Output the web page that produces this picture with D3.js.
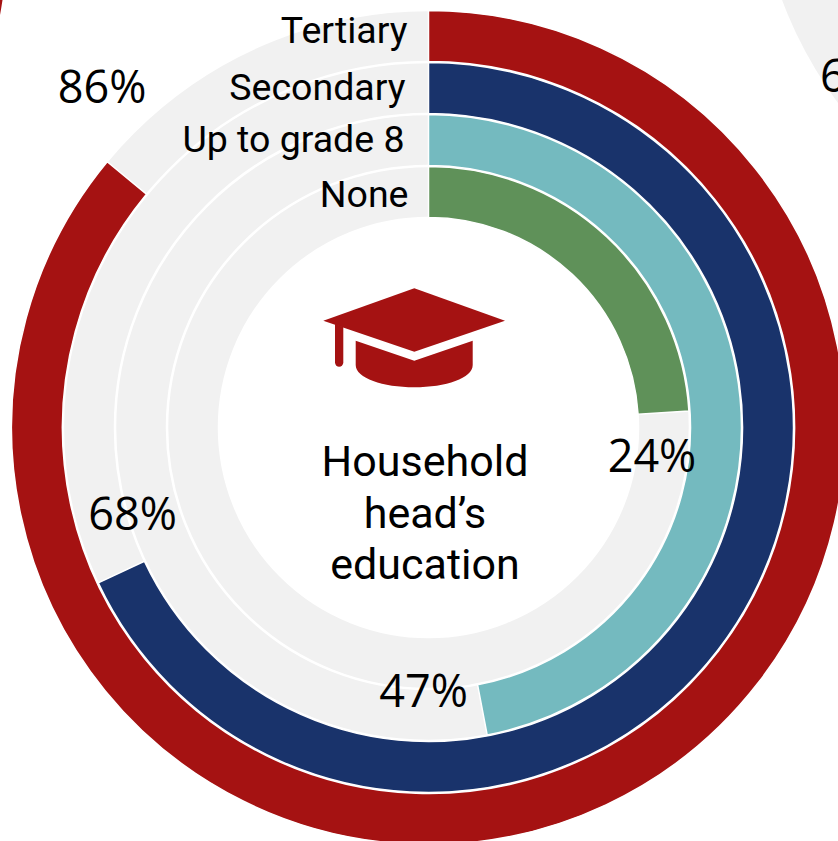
<!DOCTYPE html>
<html>
<head>
<meta charset="utf-8">
<script src="https://d3js.org/d3.v7.min.js"></script>
<style>
html,body{margin:0;padding:0;background:#fff;overflow:hidden}
svg{display:block}
text{fill:#000}
</style>
</head>
<body>
<svg id="chart" width="838" height="841"></svg>
<script>
var categories = ["Tertiary", "Secondary", "Up to grade 8", "None"];
var shares = [86, 68, 47, 24];
var colors = ["#a51212", "#19336b", "#74babf", "#5f9159"];
var titleLines = ["Household", "head\u2019s", "education"];

// bits of the neighbouring panels that are cut off by the crop
var neighbourRightLabel = "6";

var W = 838, H = 841;
var CX = 428.5, CY = 427.5;
var TRACK = "#f1f1f1";

var svg = d3.select("#chart");

var angle = d3.scaleLinear().domain([0, 100]).range([0, 2 * Math.PI]);
var ring = d3.scaleBand().domain(categories).range([417, 210]).paddingInner(0.02);

var arc = d3.arc();

// neighbour panels
svg.append("path")
    .attr("transform", "translate(1172,-145)")
    .attr("fill", TRACK)
    .attr("d", arc({innerRadius: 300, outerRadius: 416, startAngle: Math.PI, endAngle: 1.5 * Math.PI}));
svg.append("path")
    .attr("transform", "translate(-409,-61)")
    .attr("fill", colors[0])
    .attr("d", arc({innerRadius: 366, outerRadius: 416, startAngle: Math.PI * 0.25, endAngle: Math.PI * 0.75}));
svg.append("text")
    .attr("x", 820).attr("y", 92)
    .style("font-family", "'Open Sans'").style("font-size", "45px")
    .text(neighbourRightLabel);

var g = svg.append("g").attr("transform", "translate(" + CX + "," + CY + ")");

var data = categories.map(function (c, i) { return {name: c, share: shares[i], color: colors[i]}; });

var rows = g.selectAll("g.ring")
    .data(data)
    .enter().append("g").attr("class", "ring");

function radii(d) {
    // reversed range: the band runs outward from the scale value
    var inner = ring(d.name);
    return {inner: inner, outer: inner + ring.bandwidth()};
}

rows.append("path")
    .attr("fill", TRACK)
    .attr("stroke", "#fff")
    .attr("stroke-width", 1.5)
    .attr("d", function (d) {
        var r = radii(d);
        return arc({innerRadius: r.inner, outerRadius: r.outer, startAngle: 0, endAngle: 2 * Math.PI});
    });

rows.append("path")
    .attr("fill", function (d) { return d.color; })
    .attr("stroke", "#fff")
    .attr("stroke-width", 1.5)
    .attr("d", function (d) {
        var r = radii(d);
        return arc({innerRadius: r.inner, outerRadius: r.outer, startAngle: 0, endAngle: angle(d.share)});
    });

// labels go in their own layer so no ring paints over them
var labels = g.append("g").selectAll("g").data(data).enter().append("g");

// category labels, right aligned against 12 o'clock
var labelAt = {"Tertiary": [-21, -384.5], "Secondary": [-23, -327.5], "Up to grade 8": [-24, -275.5], "None": [-20, -220.5]};
labels.append("text")
    .attr("x", function (d) { return labelAt[d.name][0]; })
    .attr("y", function (d) { return labelAt[d.name][1]; })
    .attr("text-anchor", "end")
    .style("font-family", "Roboto").style("font-size", "37.5px")
    .text(function (d) { return d.name; });

// share labels
var shareAt = {86: [-326.5, -324.5], 68: [-296, 102], 47: [-5, 279], 24: [223.5, 44.5]};
labels.append("text")
    .attr("x", function (d) { return shareAt[d.share][0]; })
    .attr("y", function (d) { return shareAt[d.share][1]; })
    .attr("text-anchor", "middle")
    .style("font-family", "'Open Sans'").style("font-size", "45px")
    .text(function (d) { return d.share + "%"; });

// centre title
g.append("g").selectAll("text").data(titleLines).enter().append("text")
    .attr("x", -3.5)
    .attr("y", function (d, i) { return 48.5 + i * 51.5; })
    .attr("text-anchor", "middle")
    .style("font-family", "Roboto").style("font-size", "43px")
    .text(function (d) { return d; });

// mortarboard icon
var icon = g.append("g").attr("fill", "#a51212").attr("transform", "translate(-0.5,0.5)");
icon.append("path").attr("d", "M-13.7,-139.7 L77,-107.3 L-13.7,-76.3 L-104.7,-107.3 Z");
icon.append("path").attr("d", "M-72.3,-87.3 L-13.7,-67.3 L44.7,-87.3 L44.7,-63 C44.7,-50 18,-40.7 -13.7,-40.7 C-45,-40.7 -72.3,-50 -72.3,-63 Z");
icon.append("path").attr("d", "M-93,-104 L-84.7,-101 L-84.7,-65.4 A4.15,4.15 0 0 1 -93,-65.4 Z");
</script>
</body>
</html>
